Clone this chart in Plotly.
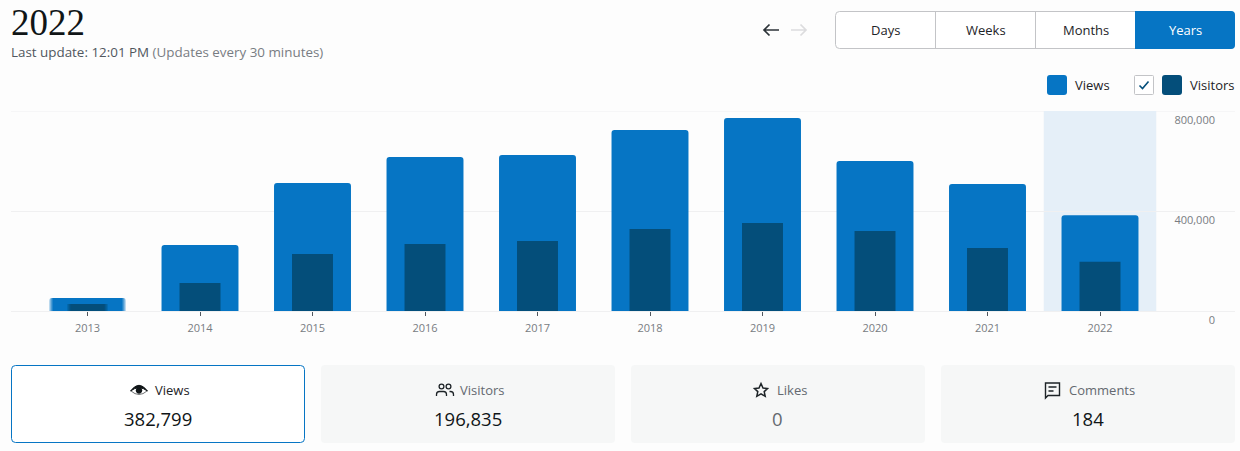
#%%
import plotly.graph_objs as go

#%%
# values
years = ['2013', '2014', '2015', '2016', '2017', '2018', '2019', '2020', '2021', '2022']
views = [52000, 264000, 512000, 616000, 624000, 724000, 772000, 600000, 508000, 382799]
visitors = [28000, 112000, 228000, 268000, 280000, 328000, 352000, 320000, 252000, 196835]
y_ticks = [0, 400000, 800000]
selected_year = '2022'

periods = ['Days', 'Weeks', 'Months', 'Years']
card_labels = ['Views', 'Visitors', 'Likes', 'Comments']
card_values = ['382,799', '196,835', '0', '184']

#%%
W = 1240
H = 451
FONT = 'Open Sans'
BLUE = '#0675c4'
NAVY = '#044e7a'
GREY = '#787c82'
INK = '#1d2327'
OUTER = 0.684
INNER = 0.364
PX = 1 / 112.5  # one pixel in category units

shapes = []
notes = []


def rrect(x0, y0, x1, y1, r):
    return (f'M{x0+r},{y0} L{x1-r},{y0} Q{x1},{y0} {x1},{y0+r} L{x1},{y1-r} Q{x1},{y1} {x1-r},{y1} '
            f'L{x0+r},{y1} Q{x0},{y1} {x0},{y1-r} L{x0},{y0+r} Q{x0},{y0} {x0+r},{y0} Z')


def circle(cx, cy, r):
    # shape paths take no arcs, so four cubics
    k = r * 0.552
    return (f'M{cx+r},{cy} C{cx+r},{cy+k} {cx+k},{cy+r} {cx},{cy+r} C{cx-k},{cy+r} {cx-r},{cy+k} {cx-r},{cy} '
            f'C{cx-r},{cy-k} {cx-k},{cy-r} {cx},{cy-r} C{cx+k},{cy-r} {cx+r},{cy-k} {cx+r},{cy} Z')


def path(d, line=None, width=1.5, fill=None):
    # everything outside the plot is drawn on a full page pixel axis (x2/y2)
    shapes.append(dict(type='path', path=d, xref='x2', yref='y2', layer='above',
                       line=dict(color=line or 'rgba(0,0,0,0)', width=width if line else 0),
                       fillcolor=fill or 'rgba(0,0,0,0)'))


def text(x, y, s, size=13, color=INK, anchor='left', family=FONT):
    notes.append(dict(x=x, y=y, xref='x2', yref='y2', text=s, showarrow=False, xanchor=anchor, yanchor='middle',
                      font=dict(size=size, color=color, family=family)))


def fade(bar_width, top, rgb):
    # the smallest bar is blurred at both sides in the reference
    for n, alpha in enumerate([0.75, 0.5, 0.3, 0.12]):
        for side in (-1, 1):
            edge = side * (bar_width / 2 - n * PX)
            shapes.append(dict(type='rect', xref='x', yref='y', x0=edge, x1=edge - side * PX, y0=0, y1=top,
                               fillcolor=f'rgba({rgb},{alpha})', line=dict(width=0), layer='above'))


#%%
# header
text(9, 22, '2022', size=37, color='#101517', family='Liberation Serif')
text(9, 52, f'<span style="color:#50575e">Last update: 12:01 PM</span> (Updates every 30 minutes)', size=13.4, color=GREY)

# arrows
path('M779,30 L764,30 M769.5,24.5 L764,30 L769.5,35.5', line='#2c3338', width=1.7)
path('M791,30 L806,30 M800.5,24.5 L806,30 L800.5,35.5', line='#dcdcde', width=1.7)

# period switch
path(rrect(835.5, 11.5, 1234.5, 48.5, 4), line='#c3c4c7', width=1, fill='#ffffff')
path('M1135,11 L1231,11 Q1235,11 1235,15 L1235,45 Q1235,49 1231,49 L1135,49 Z', fill=BLUE)
path('M935.5,12 L935.5,48 M1035.5,12 L1035.5,48', line='#c3c4c7', width=1)
for i, p in enumerate(periods):
    text(885.5 + i * 100, 30, p, size=13, color='#ffffff' if p == 'Years' else INK, anchor='center')

# legend
path(rrect(1047, 75, 1067, 95, 3), fill=BLUE)
text(1073, 85, 'Views', size=13)
path(rrect(1134.5, 75.5, 1153.5, 94.5, 1), line='#c3c4c7', width=1, fill='#ffffff')
path('M1139.5,85.5 L1142.5,88.5 L1148.5,81.5', line=NAVY, width=1.6)
path(rrect(1162, 75, 1182, 95, 3), fill=NAVY)
text(1188, 85, 'Visitors', size=13)

#%%
# cards along the bottom
card_x = [11.5, 321, 631, 941]
label_x = [153, 458, 775, 1067]
for i, lab in enumerate(card_labels):
    x0 = card_x[i]
    if i == 0:
        path(rrect(x0, 365.5, x0 + 293, 442.5, 4), line=BLUE, width=1, fill='#ffffff')
    else:
        path(rrect(x0, 365, x0 + 294, 443, 4), fill='#f6f7f7')
    text(label_x[i], 390, lab, size=13, color=INK if i == 0 else '#646970')
    text(x0 + 146.5, 418, card_values[i], size=18.5, color='#646970' if card_values[i] == '0' else '#101517', anchor='center')

# eye
path('M130.5,391 Q139,379.5 147.5,391 Q139,384.5 130.5,391 Z', line='#101517', width=1, fill='#101517')
path('M131,391 Q139,398 147,391', line='#101517', width=0.6)
path(circle(139, 390.5, 3.2), fill='#101517')
# people
path(circle(441.5, 386.5, 2.4) + ' ' + circle(448.5, 386.5, 2.4), line=INK, width=1.3)
path('M436.5,396 L436.5,394.5 Q436.5,391.5 439.5,391.5 L443.5,391.5 Q446.5,391.5 446.5,394.5 L446.5,396 '
     'M449.5,391.5 L450.5,391.5 Q453.5,391.5 453.5,394.5 L453.5,396', line=INK, width=1.3)
# star
path('M761,383.5 L763,388 L767.5,388.5 L764.2,391.6 L765.2,396.3 L761,393.9 L756.8,396.3 L757.8,391.6 L754.5,388.5 L759,388 Z',
     line=INK, width=1.5)
# comment
path('M1045.5,383 L1059.5,383 L1059.5,395.5 L1048,395.5 L1045.5,398 Z', line=INK, width=1.4)
path('M1048.5,387 L1056.5,387 M1048.5,391 L1053.5,391', line=INK, width=1.4)

#%%
# highlight of the selected year, top gridline sits on the range edge so draw it too
sel = years.index(selected_year)
shapes.insert(0, dict(type='rect', xref='x', yref='y', x0=sel - 0.5, x1=sel + 0.5, y0=y_ticks[0], y1=y_ticks[-1],
                      fillcolor='#e5eff8', line=dict(width=0), layer='below'))
shapes.insert(1, dict(type='line', xref='x domain', yref='y', x0=0, x1=1, y0=y_ticks[-1], y1=y_ticks[-1],
                      line=dict(color='#f0f0f1', width=1), layer='below'))
fade(OUTER, views[0], '253,253,253')
fade(INNER, visitors[0], '6,117,196')

fig = go.Figure()
fig.add_trace(go.Bar(x=years, y=views, name='Views', width=OUTER, marker=dict(color=BLUE, line=dict(width=0))))
fig.add_trace(go.Bar(x=years, y=visitors, name='Visitors', width=INNER, marker=dict(color=NAVY, line=dict(width=0))))
# empty trace so the page axis exists
fig.add_trace(go.Scatter(x=[0], y=[0], xaxis='x2', yaxis='y2', mode='none', showlegend=False, hoverinfo='skip'))

fig.update_layout(
    template='none', width=W, height=H, margin=dict(l=0, r=0, t=0, b=0, pad=0), showlegend=False, barmode='overlay', barcornerradius=3,
    paper_bgcolor='#fdfdfd', plot_bgcolor='rgba(0,0,0,0)', font=dict(family=FONT, size=12, color=GREY),
    shapes=shapes, annotations=notes, hovermode=False,
    xaxis=dict(domain=[11 / W, 1235 / W], range=[-0.68, 10.2], type='category', showgrid=False, zeroline=False, showline=False,
               automargin=False, ticks='outside', ticklen=4, tickwidth=1, tickcolor='#50575e', ticklabelstandoff=3,
               tickfont=dict(size=11, color=GREY), anchor='y'),
    yaxis=dict(domain=[1 - 311 / H, 1 - 111 / H], range=[y_ticks[0], y_ticks[-1]], tickvals=y_ticks, tickformat=',',
               automargin=False, gridcolor='#f0f0f1', gridwidth=1, zeroline=True, zerolinecolor='#f0f0f1', zerolinewidth=1,
               showline=False, ticks='', side='right', anchor='x',
               ticklabelposition='inside', ticklabelstandoff=17, ticklabelshift=9, ticklabeloverflow='allow',
               tickfont=dict(size=11, color=GREY)),
    xaxis2=dict(domain=[0, 1], range=[0, W], visible=False, anchor='y2', fixedrange=True, automargin=False),
    yaxis2=dict(domain=[0, 1], range=[H, 0], visible=False, anchor='x2', fixedrange=True, automargin=False),
)

#%%
# default page keeps the 8px body margin, drop it so the pixels line up
fig.write_html('out.html', config=dict(displayModeBar=False),
               post_script="document.body.style.margin='0'; document.body.style.overflow='hidden';")
